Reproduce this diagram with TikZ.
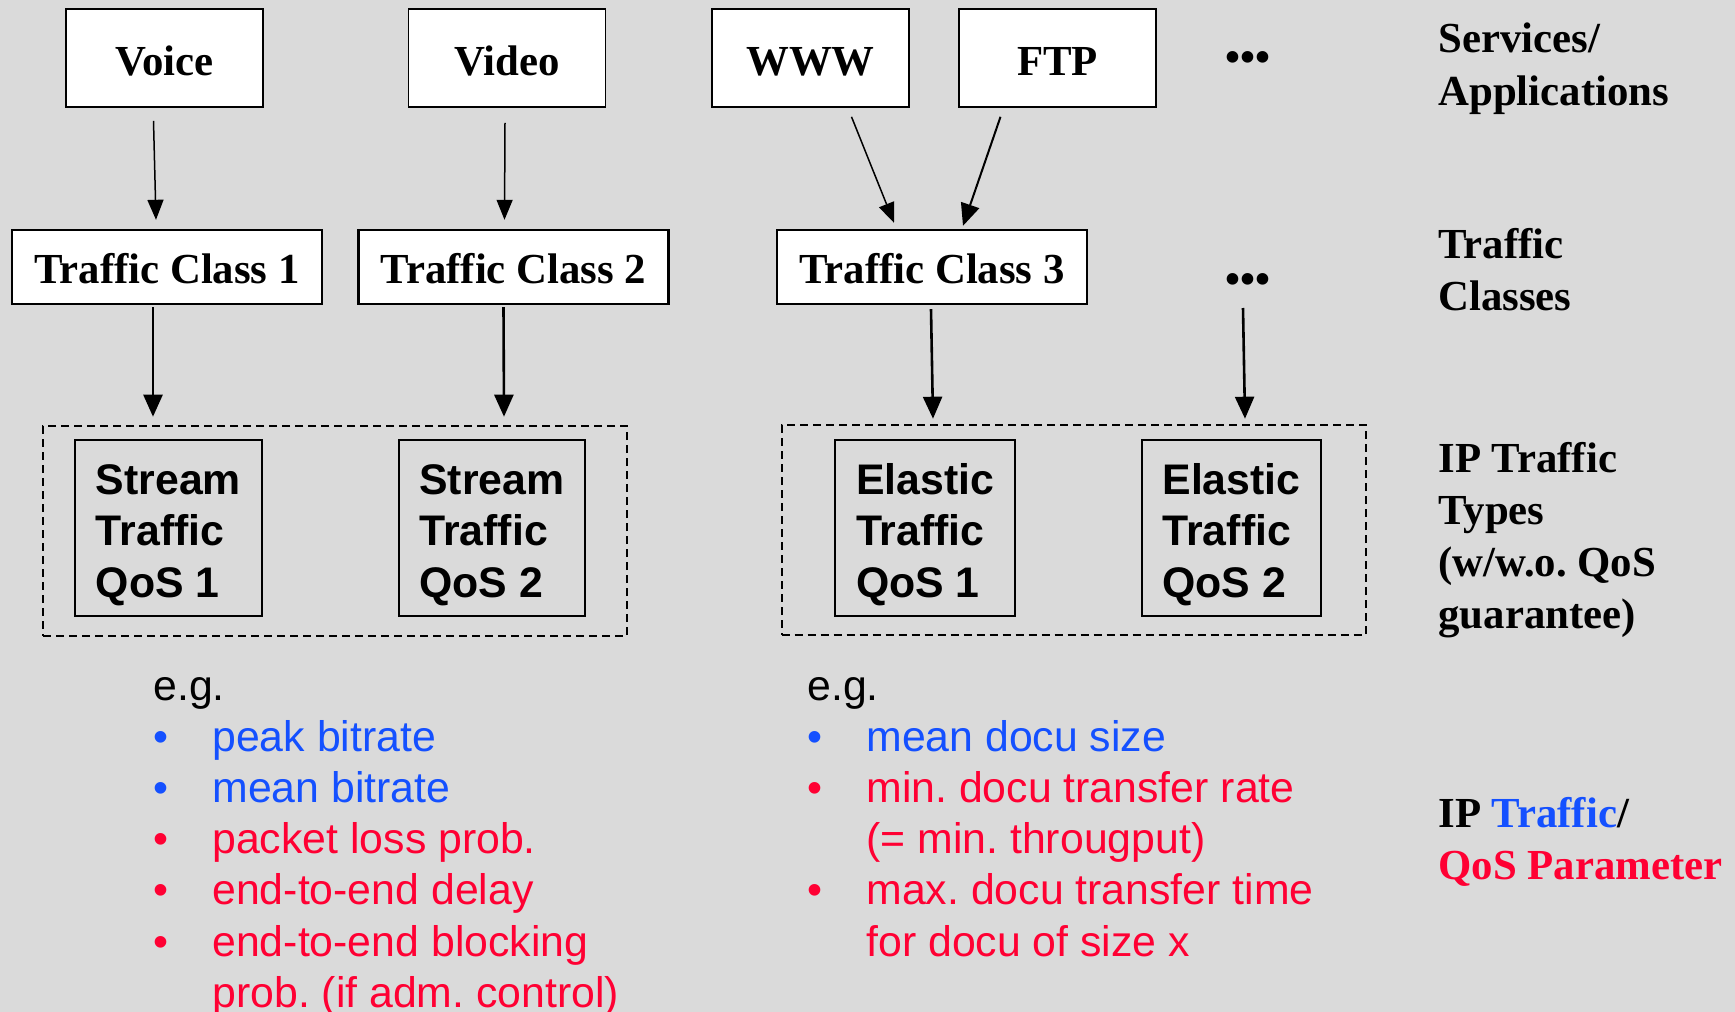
\documentclass[tikz,border=0pt]{standalone}
\usepackage{fontspec}
\setmainfont{Liberation Serif}
\setsansfont{Liberation Sans}
\usetikzlibrary{arrows.meta}

\definecolor{bgray}{RGB}{218,218,218}
\definecolor{qblue}{RGB}{20,80,255}
\definecolor{qred}{RGB}{255,0,51}

\frenchspacing
\newcommand{\bigfont}{\fontsize{21.4}{26}\selectfont}
\newcommand{\topgap}{\rule{0pt}{22.2pt}}
\newcommand{\moredots}{\textbullet\textbullet\textbullet}
\newcommand{\pitem}[2]{\makebox[29.5pt][l]{\color{#1}\textbullet} & \color{#1}#2}

\tikzset{
  appbox/.style={draw, fill=white, line width=0.8pt, minimum width=98.5pt, minimum height=49pt, inner sep=0pt, text height=17.3pt, text depth=0pt, font=\bigfont\bfseries},
  classbox/.style={draw, fill=white, line width=1.2pt, minimum width=155pt, minimum height=37pt, inner sep=0pt, text height=16.6pt, text depth=0pt, font=\bigfont\bfseries},
  typebox/.style={draw, line width=1.3pt, minimum height=88pt, inner sep=0pt, align=left, font=\sffamily\fontsize{21.4}{25.7}\selectfont\bfseries},
  groupbox/.style={draw, dash pattern=on 4pt off 2.5pt, line width=1pt, minimum width=292pt, minimum height=105pt, inner sep=0pt},
  dotsnode/.style={inner sep=0pt, font=\bigfont\bfseries},
  sidelabel/.style={anchor=base west, inner sep=0pt, font=\bigfont\bfseries},
  listtext/.style={anchor=base west, inner sep=0pt, font=\sffamily\fontsize{21.4}{25.6}\selectfont},
  thinarr/.style={-{Triangle[length=10pt,width=8pt]}, line width=0.75pt},
  thickarr/.style={-{Triangle[length=11pt,width=9.5pt]}, line width=1.3pt}
}

\begin{document}
\begin{tikzpicture}[x=0.5pt, y=-0.5pt]
  % background
  \fill[bgray] (0,0) rectangle (1735,1012);
  \useasboundingbox (0,0) rectangle (1735,1012);

  % services / applications
  \node[appbox] (voice) at (164.5,58) {Voice};
  \node[appbox] (video) at (507,58) {Video};
  \node[appbox] (www)   at (810.5,58) {WWW};
  \node[appbox] (ftp)   at (1057.5,58) {FTP};
  \node[dotsnode] (dots1) at (1248,62) {\moredots};

  % traffic classes
  \node[classbox] (tc1) at (167,267) {Traffic Class 1};
  \node[classbox] (tc2) at (513.5,267) {Traffic Class 2};
  \node[classbox] (tc3) at (932,267) {Traffic Class 3};
  \node[dotsnode] (dots2) at (1248,284) {\moredots};

  % IP traffic types
  \node[groupbox] (streamgrp)  at (335,531) {};
  \node[groupbox] (elasticgrp) at (1073.5,530) {};
  \node[typebox, minimum width=93.5pt] (stream1)  at (168.5,528) {\topgap Stream\\Traffic\\QoS 1};
  \node[typebox, minimum width=93pt]   (stream2)  at (492,528) {\topgap Stream\\Traffic\\QoS 2};
  \node[typebox, minimum width=90pt]   (elastic1) at (925,528) {\topgap Elastic\\Traffic\\QoS 1};
  \node[typebox, minimum width=89.5pt] (elastic2) at (1231.5,528) {\topgap Elastic\\Traffic\\QoS 2};

  \draw[thinarr] ([shift={(-11,13)}]voice.south) -- ([shift={(-11,-9)}]tc1.north);
  \draw[thinarr] ([shift={(-2,15)}]video.south) -- ([shift={(-9,-9)}]tc2.north);
  \draw[thinarr] ([shift={(41,9)}]www.south) -- ([shift={(-38,-6)}]tc3.north);
  \draw[thickarr, line width=1pt] ([shift={(-57,9)}]ftp.south) -- ([shift={(31,-3)}]tc3.north);

  \draw[thickarr] ([shift={(-14,2)}]tc1.south) -- ([shift={(-15.5,-22)}]stream1.north);
  \draw[thickarr] ([shift={(-10,2)}]tc2.south) -- ([shift={(12,-22)}]stream2.north);
  \draw[thickarr] ([shift={(-1,4)}]tc3.south) -- ([shift={(8,-20)}]elastic1.north);
  \draw[thickarr] ([shift={(-5,24)}]dots2.center) -- ([shift={(13.5,-20)}]elastic2.north);

  % parameters
  \node[listtext] (streamparams) at (153,700) {\begin{tabular}[t]{@{}l@{}l@{}}
    \multicolumn{2}{@{}l@{}}{e.g.}\\
    \pitem{qblue}{peak bitrate}\\
    \pitem{qblue}{mean bitrate}\\
    \pitem{qred}{packet loss prob.}\\
    \pitem{qred}{end-to-end delay}\\
    \pitem{qred}{end-to-end blocking}\\
    & \color{qred}prob. (if adm. control)
  \end{tabular}};
  \node[listtext] (elasticparams) at (807,700) {\begin{tabular}[t]{@{}l@{}l@{}}
    \multicolumn{2}{@{}l@{}}{e.g.}\\
    \pitem{qblue}{mean docu size}\\
    \pitem{qred}{min. docu transfer rate}\\
    & \color{qred}(= min. througput)\\
    \pitem{qred}{max. docu transfer time}\\
    & \color{qred}for docu of size x
  \end{tabular}};

  % layer labels
  \node[sidelabel] (services) at (1438,53) {\begin{tabular}[t]{@{}l@{}}Services/\\Applications\end{tabular}};
  \node[sidelabel] (classes) at (1438,258) {\begin{tabular}[t]{@{}l@{}}Traffic\\Classes\end{tabular}};
  \node[sidelabel] (types) at (1438,472) {\begin{tabular}[t]{@{}l@{}}IP Traffic\\Types\\(w/w.o. QoS\\guarantee)\end{tabular}};
  \node[sidelabel] (params) at (1438,827) {\begin{tabular}[t]{@{}l@{}}IP {\color{qblue}Traffic}/\\{\color{qred}QoS Parameter}\end{tabular}};
\end{tikzpicture}
\end{document}
